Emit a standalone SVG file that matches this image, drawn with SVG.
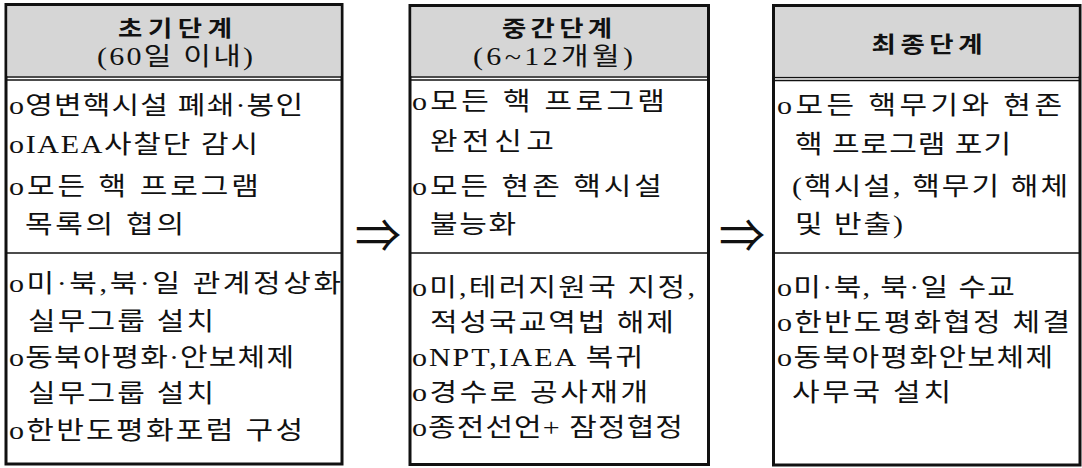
<svg xmlns="http://www.w3.org/2000/svg" width="1082" height="468" viewBox="0 0 1082 468">
<style>
.box{fill:#fff;stroke:#111;stroke-width:3}
.hdr{fill:#d6d6d6;stroke:none}
.sep{stroke:#111;stroke-width:1.3;fill:none}
.div{stroke:#111;stroke-width:1.5;fill:none}
.t{font-family:"Liberation Serif","Noto Sans CJK KR",serif;font-size:25px;fill:#111}
.h{font-family:"Noto Sans CJK KR",sans-serif;font-size:22px;font-weight:bold;fill:#111;text-anchor:middle}
.s{font-family:"Liberation Serif","Noto Sans CJK KR",serif;font-size:25px;fill:#111;text-anchor:middle}
.arr{font-family:"Noto Sans CJK KR",sans-serif;font-size:46px;fill:#111}
</style>
<rect width="1082" height="468" fill="#fff"/>
<g id="stage1">
<rect class="box" x="6" y="4.5" width="336" height="459.5"/>
<rect class="hdr" x="7.5" y="6" width="333" height="70"/>
<line class="sep" x1="6" y1="77" x2="342" y2="77"/>
<line class="sep" x1="6" y1="80" x2="342" y2="80"/>
<line class="div" x1="6" y1="253" x2="342" y2="253"/>
<g transform="scale(1.2 1)">
<text class="h" x="145.83" y="36" textLength="95" lengthAdjust="spacing">초기단계</text>
<text class="s" x="145.83" y="65" textLength="130" lengthAdjust="spacing">(60일 이내)</text>
<text class="t" x="7.5" y="114" textLength="245" lengthAdjust="spacing">o영변핵시설 폐쇄·봉인</text>
<text class="t" x="7.5" y="153" textLength="207.5" lengthAdjust="spacing">oIAEA사찰단 감시</text>
<text class="t" x="7.5" y="195" textLength="208.3" lengthAdjust="spacing">o모든 핵 프로그램</text>
<text class="t" x="20.83" y="233" textLength="132.5" lengthAdjust="spacing">목록의 협의</text>
<text class="t" x="7.5" y="292" textLength="276.7" lengthAdjust="spacing">o미·북,북·일  관계정상화</text>
<text class="t" x="23.33" y="330" textLength="155" lengthAdjust="spacing">실무그룹 설치</text>
<text class="t" x="7.5" y="366" textLength="237.5" lengthAdjust="spacing">o동북아평화·안보체제</text>
<text class="t" x="23.33" y="402" textLength="155" lengthAdjust="spacing">실무그룹 설치</text>
<text class="t" x="7.5" y="439" textLength="245" lengthAdjust="spacing">o한반도평화포럼 구성</text>
</g>
</g>
<g id="stage2">
<rect class="box" x="410" y="5.5" width="298.5" height="459"/>
<rect class="hdr" x="411.5" y="7" width="295.5" height="69"/>
<line class="sep" x1="410" y1="77" x2="708.5" y2="77"/>
<line class="sep" x1="410" y1="80" x2="708.5" y2="80"/>
<line class="div" x1="410" y1="253" x2="708.5" y2="253"/>
<g transform="scale(1.2 1)">
<text class="h" x="464.17" y="36" textLength="91.7" lengthAdjust="spacing">중간단계</text>
<text class="s" x="460.83" y="65" textLength="133.3" lengthAdjust="spacing">(6~12개월)</text>
<text class="t" x="343.33" y="110" textLength="210.8" lengthAdjust="spacing">o모든 핵 프로그램</text>
<text class="t" x="358.33" y="150" textLength="103.3" lengthAdjust="spacing">완전신고</text>
<text class="t" x="343.33" y="195" textLength="208.3" lengthAdjust="spacing">o모든 현존 핵시설</text>
<text class="t" x="358.33" y="233" textLength="71.7" lengthAdjust="spacing">불능화</text>
<text class="t" x="343.33" y="296" textLength="235.8" lengthAdjust="spacing">o미,테러지원국 지정,</text>
<text class="t" x="358.33" y="331" textLength="203.3" lengthAdjust="spacing">적성국교역법 해제</text>
<text class="t" x="343.33" y="366" textLength="192.5" lengthAdjust="spacing">oNPT,IAEA 복귀</text>
<text class="t" x="343.33" y="401" textLength="196.7" lengthAdjust="spacing">o경수로 공사재개</text>
<text class="t" x="343.33" y="436" textLength="225.8" lengthAdjust="spacing">o종전선언+ 잠정협정</text>
</g>
</g>
<g id="stage3">
<rect class="box" x="773.5" y="5.5" width="306.5" height="459.5"/>
<rect class="hdr" x="775" y="7" width="303.5" height="69"/>
<line class="sep" x1="773.5" y1="77.5" x2="1080" y2="77.5"/>
<line class="sep" x1="773.5" y1="80.5" x2="1080" y2="80.5"/>
<line class="div" x1="773.5" y1="253" x2="1080" y2="253"/>
<g transform="scale(1.2 1)">
<text class="h" x="772.5" y="52" textLength="92.5" lengthAdjust="spacing">최종단계</text>
<text class="t" x="647.5" y="114" textLength="237.5" lengthAdjust="spacing">o모든 핵무기와 현존</text>
<text class="t" x="662.5" y="153" textLength="180" lengthAdjust="spacing">핵 프로그램 포기</text>
<text class="t" x="660" y="195" textLength="230" lengthAdjust="spacing">(핵시설, 핵무기 해체</text>
<text class="t" x="662.5" y="233" textLength="90" lengthAdjust="spacing">및 반출)</text>
<text class="t" x="647.5" y="296" textLength="198.3" lengthAdjust="spacing">o미·북, 북·일 수교</text>
<text class="t" x="647.5" y="331" textLength="244.2" lengthAdjust="spacing">o한반도평화협정 체결</text>
<text class="t" x="647.5" y="366" textLength="230" lengthAdjust="spacing">o동북아평화안보체제</text>
<text class="t" x="660" y="401" textLength="132.5" lengthAdjust="spacing">사무국 설치</text>
</g>
</g>
<g id="connectors">
<text class="arr" x="355" y="252">⇒</text>
<text class="arr" x="719" y="252">⇒</text>
</g>
</svg>
